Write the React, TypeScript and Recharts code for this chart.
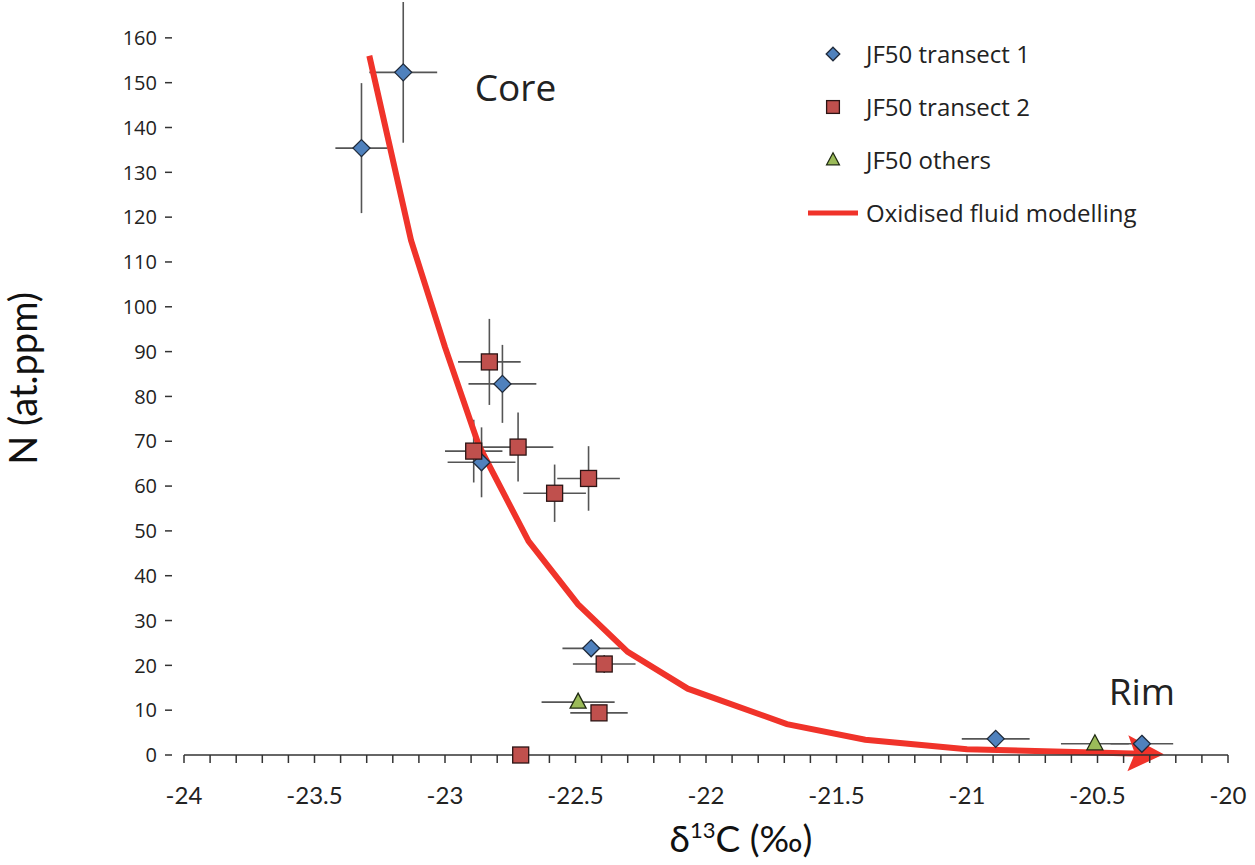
import { ComposedChart, Scatter, Line, XAxis, YAxis, ErrorBar, ReferenceDot } from "recharts";

const FONT = "'Open Sans', sans-serif";
const TITLE_FONT = "Lato, 'Open Sans', sans-serif";

// JF50 transect 1: δ13C (‰), N (at.ppm), error bars
const T1_X = [-23.32, -23.16, -22.78, -22.86, -22.44, -20.89, -20.33];
const T1_Y = [135.4, 152.3, 82.8, 65.3, 23.8, 3.6, 2.5];
const T1_EX = [0.1, 0.13, 0.13, 0.13, 0.11, 0.13, 0.12];
const T1_EY = [14.5, 15.7, 8.7, 7.8, 0, 0, 0];

// JF50 transect 2
const T2_X = [-22.83, -22.89, -22.72, -22.58, -22.45, -22.39, -22.41, -22.71];
const T2_Y = [87.7, 67.8, 68.7, 58.4, 61.7, 20.3, 9.4, 0];
const T2_EX = [0.12, 0.11, 0.135, 0.12, 0.12, 0.12, 0.11, 0];
const T2_EY = [9.6, 7, 7.7, 6.4, 7.2, 2, 0, 0];

// JF50 others
const OT_X = [-22.49, -20.51];
const OT_Y = [11.8, 2.5];
const OT_EX = [0.14, 0.13];
const OT_EY = [0, 0];

// oxidised fluid modelling curve
const MODEL_X = [-23.29, -23.13, -23.0, -22.87, -22.68, -22.49, -22.3, -22.07, -21.69, -21.39, -21.0, -20.33];
const MODEL_Y = [156, 114.8, 91, 69, 47.7, 33.6, 23, 14.8, 6.9, 3.4, 1.3, 0.3];

const X_MAJOR = [-24, -23.5, -23, -22.5, -22, -21.5, -21, -20.5, -20];
const Y_TICKS = [0, 10, 20, 30, 40, 50, 60, 70, 80, 90, 100, 110, 120, 130, 140, 150, 160];

const LEGEND = [
  { name: "JF50 transect 1", kind: "diamond", fill: "#4f81bd" },
  { name: "JF50 transect 2", kind: "square", fill: "#c0504d" },
  { name: "JF50 others", kind: "triangle", fill: "#9bbb59" },
  { name: "Oxidised fluid modelling", kind: "line", fill: "#f0332a" },
];

const rows = (xs: number[], ys: number[], exs: number[], eys: number[]) =>
  xs.map((x, i) => ({ x, y: ys[i], ex: exs[i], ey: eys[i] }));

const t1 = rows(T1_X, T1_Y, T1_EX, T1_EY);
const t2 = rows(T2_X, T2_Y, T2_EX, T2_EY);
const others = rows(OT_X, OT_Y, OT_EX, OT_EY);
const model = MODEL_X.map((x, i) => ({ x, y: MODEL_Y[i] }));

// minor ticks every 0.1 between the labelled ones
const xTicks: number[] = [];
X_MAJOR.forEach((v, i) => {
  if (i === X_MAJOR.length - 1) { xTicks.push(v); return; }
  for (let k = 0; k < 5; k++) xTicks.push(Math.round((v + k * 0.1) * 10) / 10);
});

const EDGE = "#1f2a3a";

function marker(kind: string, cx: number, cy: number, fill: string, s = 1) {
  if (kind === "diamond")
    return <path d={`M${cx},${cy - 8.5 * s}L${cx + 8.5 * s},${cy}L${cx},${cy + 8.5 * s}L${cx - 8.5 * s},${cy}Z`} fill={fill} stroke={EDGE} strokeWidth={1.3} />;
  if (kind === "square")
    return <rect x={cx - 8 * s} y={cy - 8 * s} width={16 * s} height={16 * s} fill={fill} stroke="#2b1414" strokeWidth={1.3} />;
  return <path d={`M${cx},${cy - 9 * s}L${cx + 8 * s},${cy + 6 * s}L${cx - 8 * s},${cy + 6 * s}Z`} fill={fill} stroke="#1f2a12" strokeWidth={1.3} />;
}

const shapeOf = (kind: string, fill: string) => (p: any) => marker(kind, p.cx, p.cy, fill);

function YTick({ x, y, payload }: any) {
  return (
    <g>
      <line x1={x + 8} x2={x + 15} y1={y} y2={y} stroke="#333" strokeWidth={1.5} />
      <text x={x} y={y} dy="0.36em" textAnchor="end" fontSize={20} fontFamily={FONT} fill="#222">
        {payload.value}
      </text>
    </g>
  );
}

function XTitle({ viewBox }: any) {
  const cx = viewBox.x + viewBox.width / 2 + 35;
  return (
    <text x={cx} y={viewBox.y + 97} textAnchor="middle" fontSize={37} fontFamily={TITLE_FONT} fill="#111">
      <tspan>δ</tspan>
      <tspan dy={-14} fontSize={22}>13</tspan>
      <tspan dy={14}>C (‰)</tspan>
    </text>
  );
}

function YTitle({ viewBox }: any) {
  const cy = viewBox.y + viewBox.height / 2;
  return (
    <text x={37} y={cy} transform={`rotate(-90, 37, ${cy})`} textAnchor="middle" fontSize={38} fontFamily={TITLE_FONT} fill="#111">
      N (at.ppm)
    </text>
  );
}

function LegendBox() {
  return (
    <svg width={440} height={220} style={{ position: "absolute", left: 800, top: 30 }}>
      {LEGEND.map((l, i) => {
        const cy = 24 + i * 53;
        return (
          <g key={l.name}>
            {l.kind === "line"
              ? <line x1={8} x2={58} y1={cy} y2={cy} stroke={l.fill} strokeWidth={5} />
              : marker(l.kind, 33, cy, l.fill, 0.8)}
            <text x={66} y={cy} dy="0.36em" fontSize={24} fontFamily={FONT} fill="#222">{l.name}</text>
          </g>
        );
      })}
    </svg>
  );
}

export default function App() {
  return (
    <div style={{ position: "absolute", left: 0, top: 0, width: 1255, height: 865, background: "#fff" }}>
      <svg width={0} height={0} style={{ position: "absolute" }}>
        <defs>
          <marker id="arrowHead" markerUnits="userSpaceOnUse" markerWidth={36} markerHeight={40}
            viewBox="0 0 36 40" refX={14} refY={20} orient="auto">
            <path d="M0,2 L36,20 L0,38 L7,20 Z" fill="#f0332a" />
          </marker>
        </defs>
      </svg>
      <ComposedChart width={1255} height={865} margin={{ top: 2, right: 27, bottom: 0, left: 0 }}>
        <XAxis
          type="number"
          dataKey="x"
          domain={[-24, -20]}
          ticks={xTicks}
          interval={0}
          tickFormatter={(v: number) => (X_MAJOR.includes(v) ? String(v) : "")}
          tick={{ fontSize: 24, fontFamily: TITLE_FONT, fill: "#222" }}
          tickSize={8}
          tickMargin={24}
          axisLine={{ stroke: "#333", strokeWidth: 1.5 }}
          tickLine={{ stroke: "#333", strokeWidth: 1.5 }}
          height={110}
          label={<XTitle />}
        />
        <YAxis
          type="number"
          dataKey="y"
          domain={[0, 168]}
          ticks={Y_TICKS}
          interval={0}
          width={184}
          axisLine={false}
          tickLine={false}
          tickSize={0}
          tickMargin={27}
          tick={<YTick />}
          label={<YTitle />}
        />
        <Scatter data={t1} name="JF50 transect 1" shape={shapeOf("diamond", "#4f81bd")} isAnimationActive={false}>
          <ErrorBar dataKey="ex" direction="x" width={0} stroke="#555" strokeWidth={1.6} />
          <ErrorBar dataKey="ey" direction="y" width={0} stroke="#555" strokeWidth={1.6} />
        </Scatter>
        <Scatter data={t2} name="JF50 transect 2" shape={shapeOf("square", "#c0504d")} isAnimationActive={false}>
          <ErrorBar dataKey="ex" direction="x" width={0} stroke="#555" strokeWidth={1.6} />
          <ErrorBar dataKey="ey" direction="y" width={0} stroke="#555" strokeWidth={1.6} />
        </Scatter>
        <Scatter data={others} name="JF50 others" shape={shapeOf("triangle", "#9bbb59")} isAnimationActive={false}>
          <ErrorBar dataKey="ex" direction="x" width={0} stroke="#555" strokeWidth={1.6} />
          <ErrorBar dataKey="ey" direction="y" width={0} stroke="#555" strokeWidth={1.6} />
        </Scatter>
        <Line
          data={model}
          dataKey="y"
          type="linear"
          stroke="#f0332a"
          strokeWidth={6}
          dot={false}
          activeDot={false}
          markerEnd="url(#arrowHead)"
          isAnimationActive={false}
        />
        <ReferenceDot x={-22.73} y={148.8} r={0} fill="none" stroke="none"
          label={{ value: "Core", fontSize: 37, fontFamily: FONT, fill: "#222", position: "center" }} />
        <ReferenceDot x={-20.33} y={14.1} r={0} fill="none" stroke="none"
          label={{ value: "Rim", fontSize: 37, fontFamily: FONT, fill: "#222", position: "center" }} />
      </ComposedChart>
      <LegendBox />
    </div>
  );
}
